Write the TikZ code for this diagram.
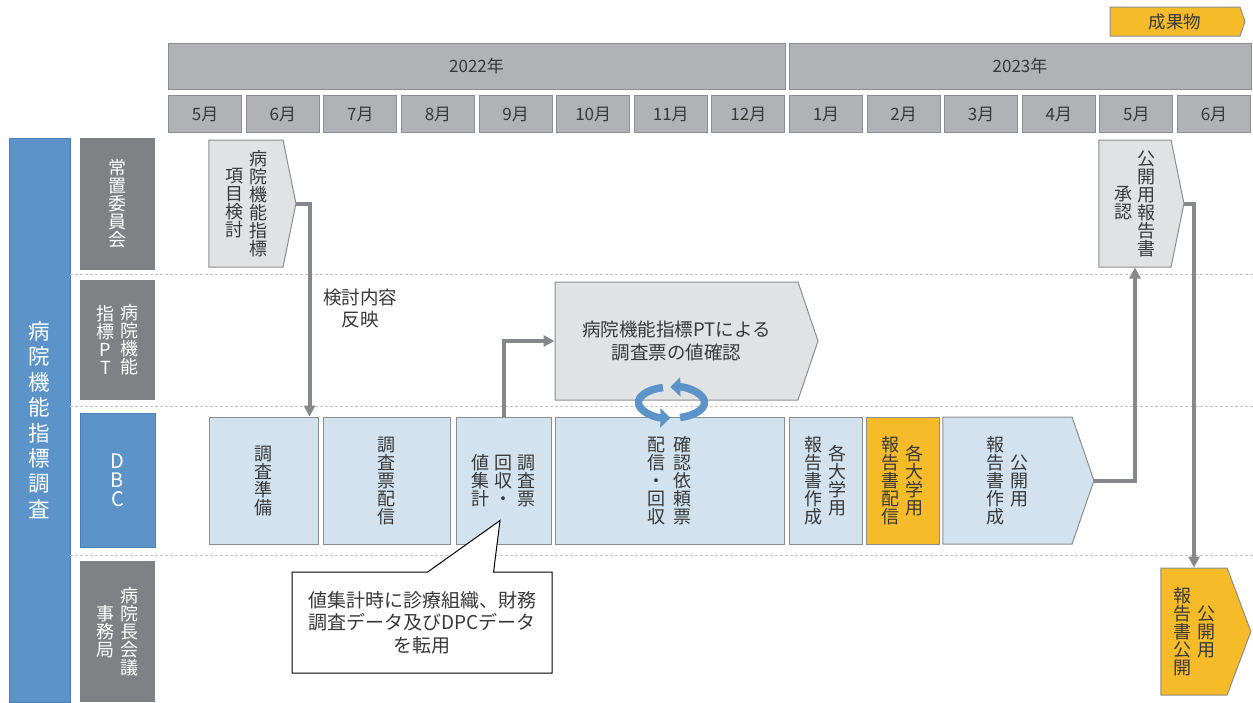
\documentclass[tikz,border=0pt]{standalone}
\usepackage{fontspec}
\setmainfont{Noto Sans CJK JP}
\usetikzlibrary{arrows.meta,matrix,positioning,shapes.symbols,shapes.callouts}

\definecolor{headgray}{HTML}{B1B2B5}
\definecolor{headline}{HTML}{8C8D90}
\definecolor{lanegray}{HTML}{808184}
\definecolor{laneblue}{HTML}{5C94C9}
\definecolor{bluedge}{HTML}{4A7FB4}
\definecolor{taskgray}{HTML}{E1E2E4}
\definecolor{taskblue}{HTML}{D2E3EF}
\definecolor{taskorange}{HTML}{F5BB29}
\definecolor{flowgray}{HTML}{87888B}
\definecolor{inkgray}{HTML}{383838}
\definecolor{sepgray}{HTML}{C4C4C4}

% vertical (tate) column, rows split by \\
\newcommand\tate[1]{\ensuremath{\vcenter{\let\\\cr\halign{\hfil##\hfil\cr#1\crcr}}}}

\tikzset{
  boxtext/.style={inner sep=0pt, text=inkgray, font=\fontsize{18}{18}\selectfont},
  headbox/.style={boxtext, draw=headline, fill=headgray, line width=1pt},
  monthbox/.style={headbox, minimum width=73pt, minimum height=37pt, font=\fontsize{17}{18}\selectfont},
  yearbox/.style={headbox, minimum height=46pt, font=\fontsize{17}{18}\selectfont},
  lanebox/.style={boxtext, fill=lanegray, text=white, minimum width=75pt},
  bluebox/.style={boxtext, fill=laneblue, draw=bluedge, line width=1pt, text=white},
  taskbox/.style={boxtext, draw=headline, fill=taskblue, line width=1pt, minimum height=127pt},
  chevron/.style={boxtext, draw=headline, line width=1pt, shape=signal, signal to=east},
  flow/.style={draw=flowgray, line width=4pt, -{Triangle[length=11pt,width=11pt]}},
  lanesep/.style={draw=sepgray, line width=0.8pt, densely dashed},
  turnarrow/.style={draw=laneblue, line width=7.5pt, -{Triangle[length=10pt,width=19pt]}},
}

\begin{document}
\begin{tikzpicture}[x=1pt,y=-1pt]
\useasboundingbox (0,0) rectangle (1253,702);

% header
\node[chevron, fill=taskorange, minimum width=135pt, minimum height=29pt, signal pointer angle=142, font=\fontsize{17.5}{18}\selectfont] (output) at (1175,21.5) {成果物};
\node[yearbox, minimum width=617pt] (y2022) at (476.5,66) {2022年};
\node[yearbox, minimum width=462pt] (y2023) at (1020,66) {2023年};
\matrix [matrix of nodes, nodes={monthbox}, column sep=3.6pt, inner sep=0pt, anchor=north west] (months) at (168,95)
    {
        5月 & 6月 & 7月 & 8月 & 9月 & 10月 & 11月 & 12月 & 1月 & 2月 & 3月 & 4月 & 5月 & 6月 \\
    };

% lanes
\node[bluebox, minimum width=61pt, minimum height=564pt, font=\fontsize{21.5}{25.4}\selectfont] (survey) at (39.5,420) {\tate{病\\院\\機\\能\\指\\標\\調\\査}};
\node[lanebox, minimum height=132pt] (committee) at (117.5,204) {\tate{常\\置\\委\\員\\会}};
\node[lanebox, minimum height=120pt] (ptlane) at (117.5,340) {\tate{指\\標\\P\\T}\hspace{6pt}\tate{病\\院\\機\\能}};
\node[bluebox, minimum width=75pt, minimum height=134pt, font=\fontsize{20}{19}\selectfont] (dbc) at (117.5,480) {\tate{D\\B\\C}};
\node[lanebox, minimum height=141pt] (office) at (117.5,631.5) {\tate{事\\務\\局}\hspace{6pt}\tate{病\\院\\長\\会\\議}};
\foreach \y in {274,406,555}
    \draw[lanesep] (70,\y) -- (1253,\y);

% tasks
\node[chevron, fill=taskgray, minimum width=87pt, minimum height=127pt, signal pointer angle=157] (items) at (246,203.5) {\tate{項\\目\\検\\討}\hspace{6pt}\tate{病\\院\\機\\能\\指\\標}};
\node[chevron, fill=taskgray, minimum width=85pt, minimum height=127pt, signal pointer angle=157] (approve) at (1135,203.5) {\tate{承\\認}\hspace{5pt}\tate{公\\開\\用\\報\\告\\書}};
\node[chevron, fill=taskgray, minimum width=263pt, minimum height=118pt, signal pointer angle=142.5, align=center, font=\fontsize{18.5}{23}\selectfont] (ptcheck) at (676.5,341) {病院機能指標PTによる\\調査票の値確認};

\node[taskbox, minimum width=109pt] (prep) at (263.5,480.5) {\tate{調\\査\\準\\備}};
\node[taskbox, minimum width=127pt] (deliver) at (386.5,480.5) {\tate{調\\査\\票\\配\\信}};
\node[taskbox, minimum width=95pt] (collect) at (503.5,480.5) {\tate{値\\集\\計}\hspace{5pt}\tate{回\\収\\・}\hspace{5pt}\tate{調\\査\\票}};
\node[taskbox, minimum width=229pt] (confirm) at (669.5,480.5) {\tate{配\\信\\・\\回\\収}\hspace{8pt}\tate{確\\認\\依\\頼\\票}};
\node[taskbox, minimum width=73pt] (unirep) at (825.5,480.5) {\tate{報\\告\\書\\作\\成}\hspace{6pt}\tate{各\\大\\学\\用}};
\node[taskbox, minimum width=73pt, fill=taskorange] (unisend) at (902.5,480.5) {\tate{報\\告\\書\\配\\信}\hspace{6pt}\tate{各\\大\\学\\用}};
\node[chevron, fill=taskblue, minimum width=151pt, minimum height=127pt, signal pointer angle=142] (pubmake) at (1007.5,480.5) {\tate{報\\告\\書\\作\\成}\hspace{6pt}\tate{公\\開\\用}};
\node[chevron, fill=taskorange, minimum width=90pt, minimum height=127pt, signal pointer angle=139] (publish) at (1194,631.5) {\tate{報\\告\\書\\公\\開}\hspace{6pt}\tate{公\\開\\用}};

% connectors
\node[boxtext, align=center, font=\fontsize{18.5}{22}\selectfont] (reflect) at (360,308) {検討内容\\反映};
\draw[flow] (items.east) -| ([xshift=-9pt]prep.north east);
\draw[flow] (collect.north) |- (ptcheck.west);
\draw[flow] (pubmake.east) -| (approve.south);
\draw[flow] (approve.east) -| (publish.north);

\coordinate (turn) at (671.5,402.5);
\draw[turnarrow] ([shift={(75:33 and 15.5)}]turn) arc[start angle=75, end angle=-92, x radius=33, y radius=15.5];
\draw[turnarrow] ([shift={(-105:33 and 15.5)}]turn) arc[start angle=-105, end angle=-268, x radius=33, y radius=15.5];

\node[boxtext, shape=rectangle callout, draw=black, fill=white, line width=1pt, minimum width=260pt, minimum height=101pt, callout absolute pointer={([xshift=-3.5pt,yshift=24pt]collect.south)}, callout pointer width=66pt, align=center, font=\fontsize{19}{22.5}\selectfont] (reuse) at (422,622.5) {値集計時に診療組織、財務\\調査データ及びDPCデータ\\を転用};
\end{tikzpicture}
\end{document}
